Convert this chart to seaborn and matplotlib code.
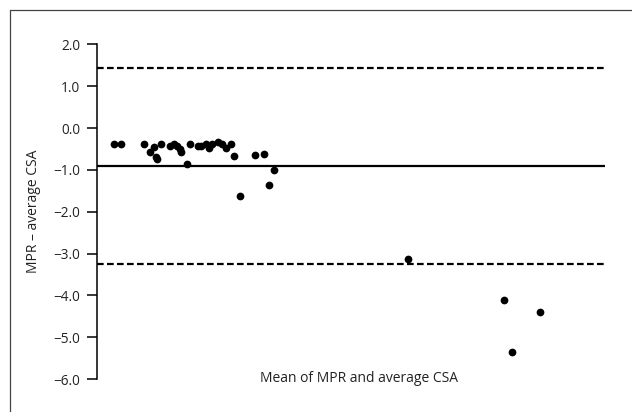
import matplotlib
matplotlib.use("Agg")
import matplotlib.pyplot as plt
import seaborn as sns
import pandas as pd
from matplotlib.lines import Line2D

# Data (x has no printed scale)
mean_vals = [0.33, 0.47, 0.93, 1.04, 1.12, 1.16, 1.18, 1.26, 1.44, 1.52,
             1.57, 1.63, 1.65, 1.77, 1.83, 1.99, 2.05, 2.15, 2.20, 2.26,
             2.38, 2.46, 2.54, 2.64, 2.70, 2.81, 3.11, 3.29, 3.39, 3.48,
             6.12, 8.01, 8.17, 8.72]
diff_vals = [-0.37, -0.37, -0.37, -0.57, -0.44, -0.68, -0.75, -0.37, -0.42, -0.37,
             -0.42, -0.50, -0.58, -0.86, -0.37, -0.42, -0.42, -0.37, -0.47, -0.37,
             -0.34, -0.38, -0.47, -0.37, -0.66, -1.63, -0.64, -0.63, -1.37, -1.01,
             -3.12, -4.10, -5.35, -4.40]
bias = -0.91
upper_loa = 1.43
lower_loa = -3.25
y_ticks = [2.0, 1.0, 0.0, -1.0, -2.0, -3.0, -4.0, -5.0, -6.0]
y_tick_labels = ["2.0", "1.0", "0.0", "\u22121.0", "\u22122.0", "\u22123.0",
                 "\u22124.0", "\u22125.0", "\u22126.0"]
x_label = "Mean of MPR and average CSA"
y_label = "MPR \u2013 average CSA"

df = pd.DataFrame({"mean": mean_vals, "diff": diff_vals})

sns.set_theme(style="white")
plt.rcParams["font.family"] = ["Open Sans", "DejaVu Sans"]

fig = plt.figure(figsize=(6.32, 4.12), dpi=100)
ax = fig.add_axes([0.1535, 0.080, 0.804, 0.812])

ax.axhline(upper_loa, color="black", lw=1.6, ls=(0, (3, 1.5)), zorder=1)
ax.axhline(lower_loa, color="black", lw=1.6, ls=(0, (3, 1.5)), zorder=1)
ax.axhline(bias, color="black", lw=1.6, zorder=1)

sns.scatterplot(data=df, x="mean", y="diff", ax=ax, color="black",
                s=31, edgecolor="black", linewidth=0, zorder=3, legend=False)

ax.set_xlim(0, 10)
ax.set_ylim(-6.0, 2.0)
ax.set_yticks(y_ticks)
ax.set_yticklabels(y_tick_labels, fontsize=9.8, color="#222222")
ax.set_xticks([])

for s in ["top", "right", "bottom"]:
    ax.spines[s].set_visible(False)
ax.spines["left"].set_color("black")
ax.spines["left"].set_linewidth(1.1)
ax.tick_params(axis="y", direction="out", length=7, width=1.1, color="black", pad=5,
               left=True)

ax.set_ylabel(y_label, fontsize=10, color="#222222", labelpad=9)
ax.set_xlabel(x_label, fontsize=10, color="#222222", va="top")
ax.xaxis.set_label_coords(0.516, 0.024)

# figure frame (left and top edges)
fig.add_artist(Line2D([10.5 / 632, 10.5 / 632], [0, 1 - 9.5 / 412],
                      transform=fig.transFigure, color="#444444", lw=0.9))
fig.add_artist(Line2D([10.5 / 632, 1], [1 - 9.5 / 412, 1 - 9.5 / 412],
                      transform=fig.transFigure, color="#444444", lw=0.9))

fig.savefig("out.png", dpi=100)
